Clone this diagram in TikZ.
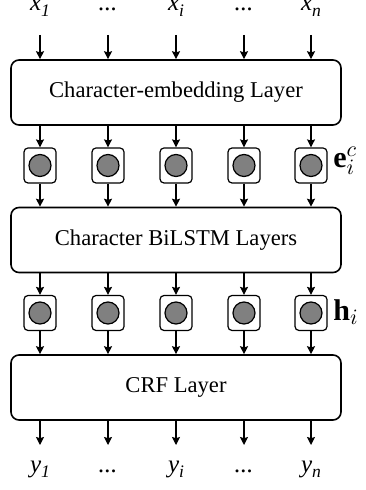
\documentclass[tikz,border=0pt]{standalone}
\usepackage{fontspec}
\setmainfont{Liberation Serif}
\usetikzlibrary{arrows.meta}
\begin{document}
\begin{tikzpicture}[x=0.5pt,y=-0.5pt,
  layerbox/.style={draw,line width=0.8pt,rounded corners=4pt,minimum width=165pt,minimum height=32.5pt,inner sep=0pt,font=\fontsize{11.3}{13}\selectfont},
  cellbox/.style={draw,line width=0.6pt,rounded corners=2pt,minimum width=16pt,minimum height=17.5pt,inner sep=0pt},
  cellcore/.style={circle,draw,line width=0.6pt,fill=black!50,minimum size=11pt,inner sep=0pt},
  flow/.style={-{Stealth[length=4pt,width=4pt,inset=0.6pt]},line width=0.6pt},
  seq/.style={anchor=base,font=\fontsize{12.5}{14}\selectfont\itshape,inner sep=0pt},
  side/.style={anchor=west,inner sep=0pt,font=\fontsize{15}{17}\selectfont}]
\useasboundingbox (0,0) rectangle (365,490);
\newcommand{\sub}[1]{\raisebox{-0.45ex}{\fontsize{8.8}{9}\selectfont\itshape #1}}

% input and output symbols
\node[seq] (x1) at (40,11) {x\sub{1}};
\node[seq] (xd1) at (108,11) {...};
\node[seq] (xi) at (176,11) {x\sub{i}};
\node[seq] (xd2) at (244,11) {...};
\node[seq] (xn) at (311,11) {x\sub{n}};
\node[seq] (y1) at (40,472) {y\sub{1}};
\node[seq] (yd1) at (108,472) {...};
\node[seq] (yi) at (176,472) {y\sub{i}};
\node[seq] (yd2) at (244,472) {...};
\node[seq] (yn) at (311,472) {y\sub{n}};

% the three layers
\node[layerbox] (emb) at (176,92.5) {Character-embedding Layer};
\node[layerbox] (lstm) at (176,240) {Character BiLSTM Layers};
\node[layerbox] (crf) at (176,387.5) {CRF Layer};

% vector cells and arrows per column
\foreach \c/\xx in {1/40,2/108,3/176,4/244,5/311}{
  \node[cellbox] (e\c) at (\xx,165.5) {};
  \node[cellcore] at (e\c) {};
  \node[cellbox] (h\c) at (\xx,313) {};
  \node[cellcore] at (h\c) {};
  \coordinate (in\c) at (\xx,35);
  \coordinate (out\c) at (\xx,445);
  \draw[flow] (in\c) -- (in\c |- emb.north);
  \draw[flow] (emb.south -| e\c) -- (e\c.north);
  \draw[flow] (e\c.south) -- (lstm.north -| e\c);
  \draw[flow] (lstm.south -| h\c) -- (h\c.north);
  \draw[flow] (h\c.south) -- (crf.north -| h\c);
  \draw[flow] (crf.south -| out\c) -- (out\c);
}

% vector names
\node[side] (elab) at (333,161) {$\mathbf{e}_i^c$};
\node[side] (hlab) at (333,312) {$\mathbf{h}_i$};
\end{tikzpicture}
\end{document}
